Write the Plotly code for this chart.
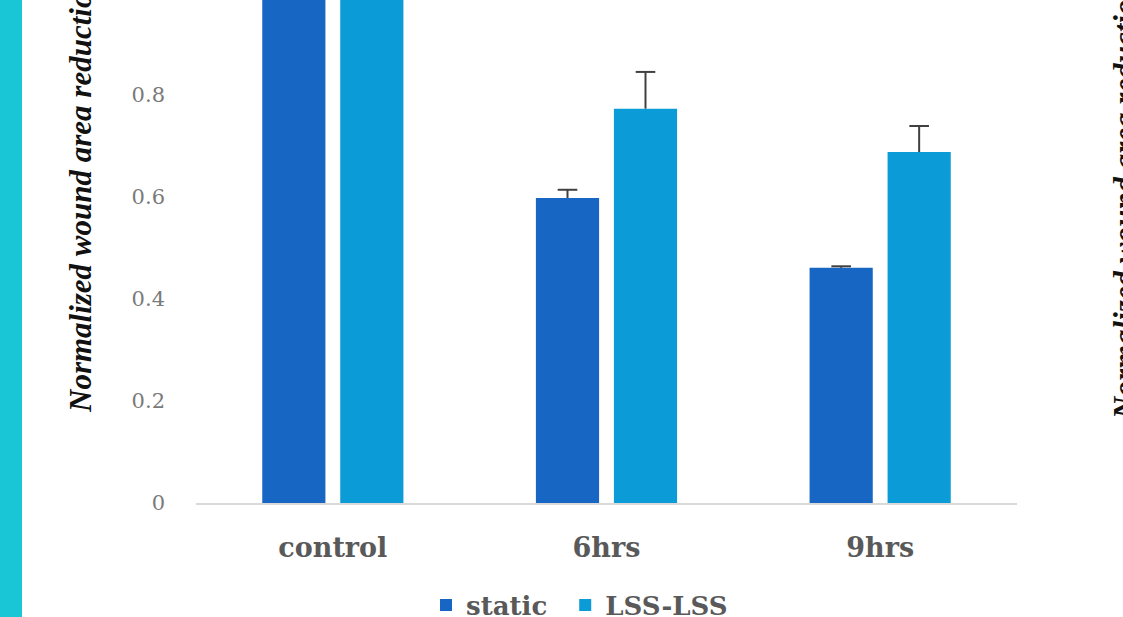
import plotly.graph_objects as go

categories = ["control", "6hrs", "9hrs"]
static_vals = [1.0, 0.598, 0.461]
static_err = [0.0, 0.016, 0.003]
lss_vals = [1.0, 0.773, 0.688]
lss_err = [0.0, 0.072, 0.051]
y_ticks = [0, 0.2, 0.4, 0.6, 0.8]
y_tick_text = ["0", "0.2", "0.4", "0.6", "0.8"]
series_names = ["static", "LSS-LSS"]

ERR_COLOR = "#404040"
err_style = dict(type="data", symmetric=False, arrayminus=[0, 0, 0],
                 color=ERR_COLOR, thickness=2, width=0)

fig = go.Figure()
series = [(series_names[0], static_vals, static_err, "#1766c4"),
          (series_names[1], lss_vals, lss_err, "#0b9bd6")]
for i, (name, vals, errs, color) in enumerate(series):
    label = name + ("\u2002" if i == 0 else "")
    fig.add_trace(go.Bar(
        name=label, x=categories, y=vals, offsetgroup=name,
        marker=dict(color=color, line=dict(width=0)),
        error_y=dict(array=errs, **err_style),
    ))
for name, vals, errs, color in series:
    tops = [v + e if e > 0 else None for v, e in zip(vals, errs)]
    fig.add_trace(go.Scatter(
        x=categories, y=tops, mode="markers", offsetgroup=name,
        showlegend=False, hoverinfo="skip", cliponaxis=False,
        marker=dict(symbol="line-ew", size=14, color=ERR_COLOR,
                    line=dict(color=ERR_COLOR, width=2)),
    ))

W, H = 1123, 617
L, R, T, B = 196, 106, 0, 114
pw = W - L - R
ph = H - T - B

def px(x):
    return (x - L) / pw

def py(y):
    return (H - B - y) / ph

fig.update_layout(
    width=W, height=H,
    margin=dict(l=L, r=R, t=T, b=B, pad=0, autoexpand=False),
    paper_bgcolor="white", plot_bgcolor="white",
    barmode="group", bargap=0.43, bargroupgap=0.19,
    scattermode="group", scattergap=0.43,
    showlegend=True,
    legend=dict(orientation="h", xref="container", yref="container",
                x=426 / W, xanchor="left", y=1 - 605 / H,
                yanchor="middle", bgcolor="rgba(0,0,0,0)",
                font=dict(family="DejaVu Serif", size=26, color="#595959", weight="bold"),
                itemwidth=30),
    xaxis=dict(showline=True, linecolor="#d9d9d9", linewidth=1.5,
               showgrid=False, zeroline=False, ticks="", automargin=False,
               tickfont=dict(family="DejaVu Serif", size=27, color="#595959", weight="bold"),
               ticklabelstandoff=20),
    yaxis=dict(range=[0, 0.986], tickvals=y_ticks, ticktext=y_tick_text,
               showgrid=False, zeroline=False, showline=False, ticks="", automargin=False,
               tickfont=dict(family="DejaVu Serif", size=21, color="#7a7a7a"),
               ticklabelstandoff=30),
    shapes=[dict(type="rect", xref="paper", yref="paper",
                 x0=px(-5), x1=px(22), y0=py(H + 10), y1=py(-10),
                 fillcolor="#18c6d6", line=dict(width=0), layer="below")],
    annotations=[
        dict(text="<b><i>Normalized wound area reduction</i></b>", textangle=-90,
             xref="paper", yref="paper", x=px(80), y=py(415),
             xanchor="center", yanchor="bottom", showarrow=False,
             font=dict(family="Liberation Serif", size=31, color="#111111")),
        dict(text="<b><i>Normalized wound area reduction</i></b>", textangle=-90,
             xref="paper", yref="paper", x=px(1124), y=py(422),
             xanchor="center", yanchor="bottom", showarrow=False,
             font=dict(family="Liberation Serif", size=31, color="#111111")),
    ],
)

fig.write_html("out.html", config={"displayModeBar": False},
               post_script="document.body.style.margin='0';document.body.style.overflow='hidden';")
